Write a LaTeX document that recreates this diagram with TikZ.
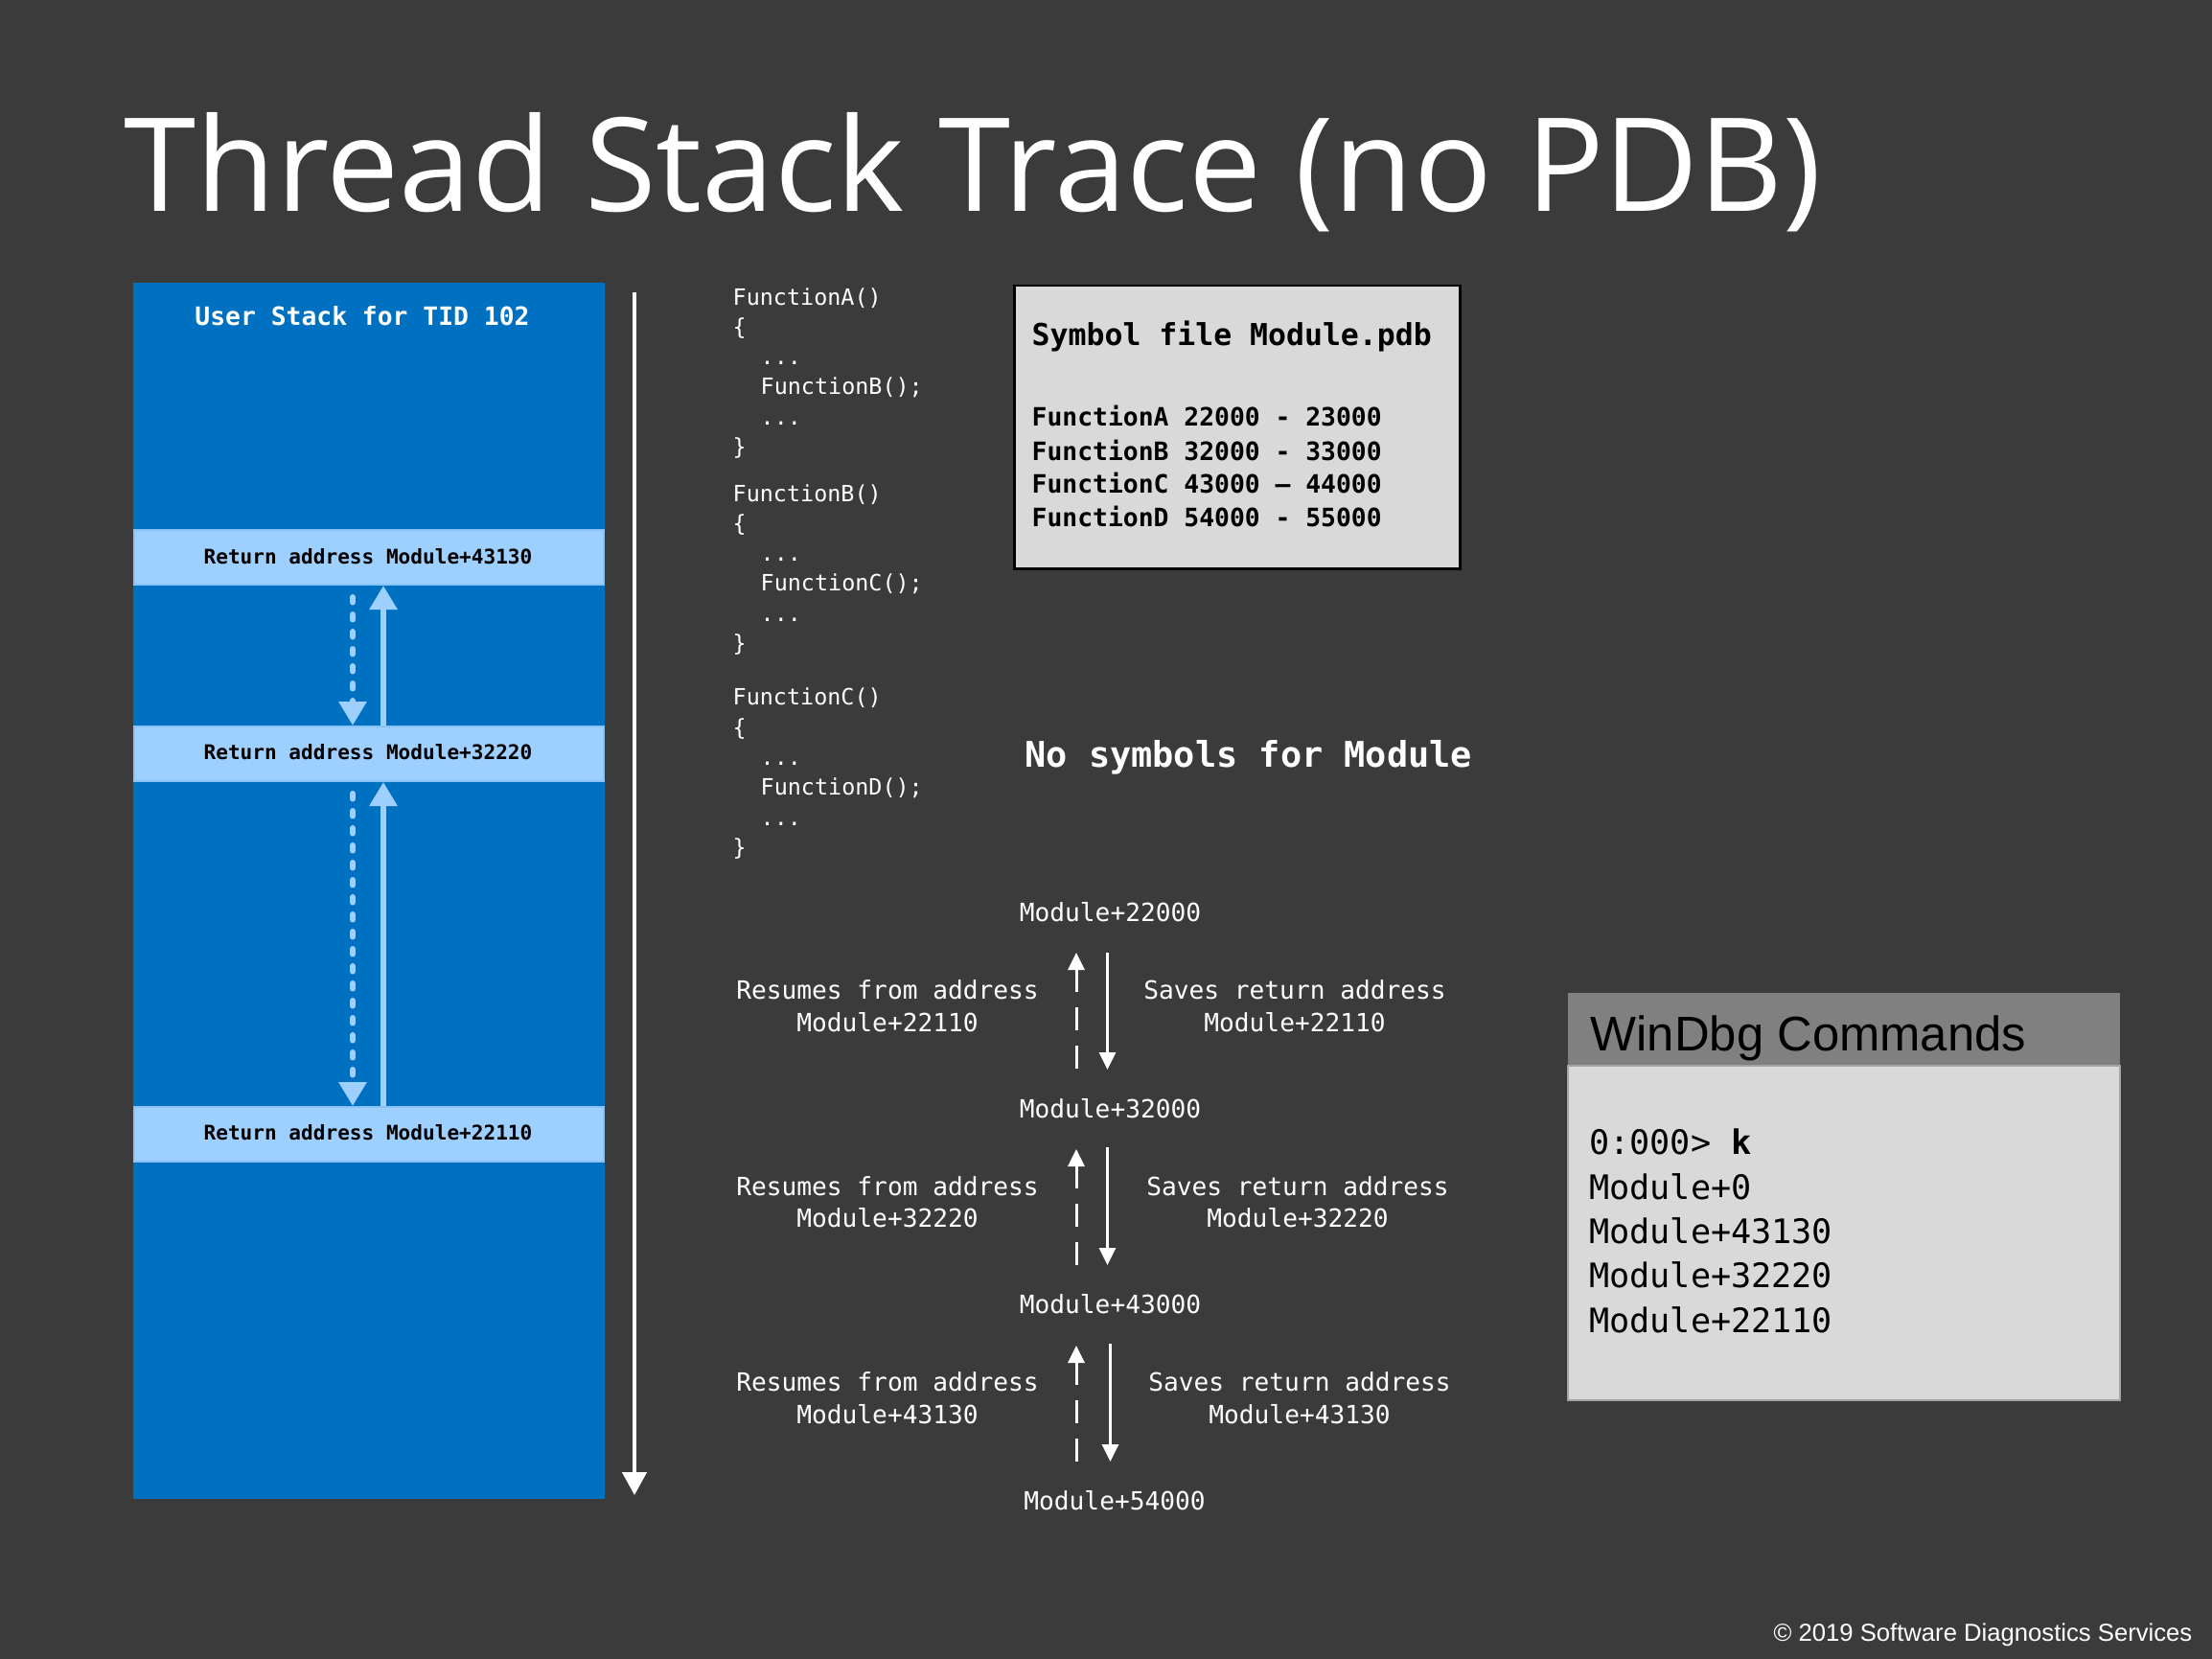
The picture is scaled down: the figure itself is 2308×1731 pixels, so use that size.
\documentclass[tikz,border=0pt]{standalone}
\usepackage{fontspec}
\setmainfont{Open Sans}
\setmonofont{DejaVu Sans Mono}
\newfontfamily\arialfont{Liberation Sans}
\usetikzlibrary{arrows.meta}
\definecolor{bg}{HTML}{3B3B3B}
\definecolor{stackblue}{HTML}{0070C0}
\definecolor{bandblue}{HTML}{9DCFFF}
\definecolor{bandedge}{HTML}{88C2F6}
\definecolor{boxgray}{HTML}{D9D9D9}
\definecolor{headgray}{HTML}{808080}
\tikzset{
  codetxt/.style={inner sep=0pt, anchor=west, text=white, font=\ttfamily\fontsize{6.66}{8}\selectfont, text height=4.66pt, text depth=0pt},
  chaintxt/.style={inner sep=0pt, anchor=center, text=white, font=\ttfamily\fontsize{7.45}{9}\selectfont, text height=5.2pt, text depth=0pt},
  symtxt/.style={inner sep=0pt, anchor=west, text=black, font=\ttfamily\bfseries\fontsize{7.5}{9}\selectfont, text height=5.25pt, text depth=0pt},
  bandtxt/.style={inner sep=0pt, anchor=center, text=black, font=\ttfamily\bfseries\fontsize{6.0}{7}\selectfont, text height=4.2pt, text depth=0pt},
  dbgtxt/.style={inner sep=0pt, anchor=west, text=black, font=\ttfamily\fontsize{10.0}{12}\selectfont, text height=7pt, text depth=0pt},
  bandbox/.style={fill=bandblue, draw=bandedge, line width=0.2mm, inner sep=0pt, anchor=north west, minimum width=49.0mm, minimum height=5.7mm},
  stackarrow/.style={draw=bandblue, line width=0.6mm, -{Triangle[width=2.8mm,length=2.5mm]}},
  stackdash/.style={stackarrow, line cap=round, dash pattern=on 0.55mm off 1.25mm},
  chainarrow/.style={draw=white, line width=0.3mm, -{Triangle[width=1.7mm,length=1.8mm]}},
  chaindash/.style={chainarrow, dash pattern=on 2.4mm off 1.6mm},
}
\begin{document}
\begin{tikzpicture}[x=0.1mm,y=-0.1mm]
\fill[bg] (0,0) rectangle (2308,1731);
\useasboundingbox (0,0) rectangle (2308,1731);

% title
\node[inner sep=0pt, anchor=base west, text=white, font=\fontsize{38.6}{44}\selectfont] (title) at (129,221) {Thread Stack Trace (no PDB)};

% stack
\node[fill=stackblue, inner sep=0pt, draw=none, anchor=north west, minimum width=49.2mm, minimum height=126.9mm] (stack) at (138,294) {};
\node[inner sep=0pt, text=white, font=\ttfamily\bfseries\fontsize{7.5}{9}\selectfont, text height=5.25pt, text depth=0pt] (stacktitle) at (378,330) {User Stack for TID 102};
\node[bandbox] (band1) at (139,552) {};
\node[bandbox] (band2) at (139,757) {};
\node[bandbox] (band3) at (139,1154) {};
\node[bandtxt] (bt1) at (384,581) {Return address Module+43130};
\node[bandtxt] (bt2) at (384,785.5) {Return address Module+32220};
\node[bandtxt] (bt3) at (384,1182.5) {Return address Module+22110};

\coordinate (xd) at (368,0);
\coordinate (xu) at (400,0);
\draw[stackdash] ([yshift=-1.2mm]xd |- band1.south) -- (xd |- band2.north);
\draw[stackarrow] (xu |- band2.north) -- (xu |- band1.south);
\draw[stackdash] ([yshift=-1.2mm]xd |- band2.south) -- (xd |- band3.north);
\draw[stackarrow] (xu |- band3.north) -- (xu |- band2.south);

% long arrow
\coordinate (ltop) at (662,305);
\coordinate (lbot) at (662,1560);
\draw[white, line width=0.45mm, -{Triangle[width=2.5mm,length=2.4mm]}] (ltop) -- (lbot);

% code
\node[codetxt] (ca1) at (764,310.6) {FunctionA()};
\node[codetxt] (ca2) at (764,341.5) {\{};
\node[codetxt] (ca3) at (793,372.4) {...};
\node[codetxt] (ca4) at (793,403.3) {FunctionB();};
\node[codetxt] (ca5) at (793,435.7) {...};
\node[codetxt] (ca6) at (764,466.6) {\}};
\node[codetxt] (cb1) at (764,515.2) {FunctionB()};
\node[codetxt] (cb2) at (764,546.1) {\{};
\node[codetxt] (cb3) at (793,577.0) {...};
\node[codetxt] (cb4) at (793,607.9) {FunctionC();};
\node[codetxt] (cb5) at (793,640.3) {...};
\node[codetxt] (cb6) at (764,671.2) {\}};
\node[codetxt] (cc1) at (764,727.2) {FunctionC()};
\node[codetxt] (cc2) at (764,759.6) {\{};
\node[codetxt] (cc3) at (793,790.5) {...};
\node[codetxt] (cc4) at (793,821.4) {FunctionD();};
\node[codetxt] (cc5) at (793,853.8) {...};
\node[codetxt] (cc6) at (764,884.7) {\}};

% symbol box
\node[fill=boxgray, draw=black, line width=0.25mm, inner sep=0pt, anchor=north west, minimum width=46.5mm, minimum height=29.5mm] (symbox) at (1057,297) {};
\node[symtxt, font=\ttfamily\bfseries\fontsize{8.96}{10}\selectfont, text height=6.27pt] (symhead) at (1076,349) {Symbol file Module.pdb};
\node[symtxt] (s1) at (1076,435.7) {FunctionA 22000 - 23000};
\node[symtxt] (s2) at (1076,471.0) {FunctionB 32000 - 33000};
\node[symtxt] (s3) at (1076,504.9) {FunctionC 43000 – 44000};
\node[symtxt] (s4) at (1076,540.2) {FunctionD 54000 - 55000};

% no symbols
\node[inner sep=0pt, anchor=west, text=white, font=\ttfamily\bfseries\fontsize{10.5}{12}\selectfont, text height=7.35pt, text depth=0pt] (nosym) at (1068.7,787.5) {No symbols for Module};

% chain
\node[chaintxt] (m1) at (1158.5,952.4) {Module+22000};
\node[chaintxt] (m2) at (1158.5,1157.0) {Module+32000};
\node[chaintxt] (m3) at (1158.5,1361.6) {Module+43000};
\node[chaintxt] (m4) at (1163.0,1566.2) {Module+54000};

\node[chaintxt] (r1a) at (926,1033.3) {Resumes from address};
\node[chaintxt] (r1b) at (926,1067.2) {Module+22110};
\node[chaintxt] (r2a) at (926,1238.0) {Resumes from address};
\node[chaintxt] (r2b) at (926,1271.8) {Module+32220};
\node[chaintxt] (r3a) at (926,1442.6) {Resumes from address};
\node[chaintxt] (r3b) at (926,1476.4) {Module+43130};

\node[chaintxt] (v1a) at (1351,1033.3) {Saves return address};
\node[chaintxt] (v1b) at (1351,1067.2) {Module+22110};
\node[chaintxt] (v2a) at (1354,1238.0) {Saves return address};
\node[chaintxt] (v2b) at (1354,1271.8) {Module+32220};
\node[chaintxt] (v3a) at (1356,1442.6) {Saves return address};
\node[chaintxt] (v3b) at (1356,1476.4) {Module+43130};

\coordinate (a1b) at (1123,1115);
\coordinate (a1t) at (1123,994);
\coordinate (b1t) at (1155.5,994);
\coordinate (b1b) at (1155.5,1116);
\coordinate (a2b) at (1123,1320);
\coordinate (a2t) at (1123,1199);
\coordinate (b2t) at (1155.5,1197);
\coordinate (b2b) at (1155.5,1320);
\coordinate (a3b) at (1123,1525);
\coordinate (a3t) at (1123,1404);
\coordinate (b3t) at (1158.5,1402);
\coordinate (b3b) at (1158.5,1525);
\draw[chaindash] (a1b) -- (a1t);
\draw[chainarrow] (b1t) -- (b1b);
\draw[chaindash] (a2b) -- (a2t);
\draw[chainarrow] (b2t) -- (b2b);
\draw[chaindash] (a3b) -- (a3t);
\draw[chainarrow] (b3t) -- (b3b);

% windbg
\node[fill=headgray, inner sep=0pt, anchor=north west, minimum width=57.6mm, minimum height=7.6mm] (dbghead) at (1635,1035) {};
\node[fill=boxgray, draw=headgray!60!boxgray, line width=0.2mm, inner sep=0pt, anchor=north west, minimum width=57.6mm, minimum height=34.9mm] (dbgbody) at (1635,1111) {};
\node[inner sep=0pt, anchor=west, text=black, font=\arialfont\fontsize{14.45}{16}\selectfont, text height=10.2pt, text depth=0pt] (dbgtitle) at (1659,1079) {WinDbg Commands};
\node[dbgtxt] (k0) at (1657.5,1192) {0:000> \textbf{k}};
\node[dbgtxt] (k1) at (1657.5,1239.4) {Module+0};
\node[dbgtxt] (k2) at (1657.5,1285) {Module+43130};
\node[dbgtxt] (k3) at (1657.5,1330.7) {Module+32220};
\node[dbgtxt] (k4) at (1657.5,1377.8) {Module+22110};

% copyright
\node[inner sep=0pt, anchor=base east, text=white, font=\arialfont\fontsize{7.3}{9}\selectfont] (copy) at (2288,1712) {© 2019 Software Diagnostics Services};
\end{tikzpicture}
\end{document}
